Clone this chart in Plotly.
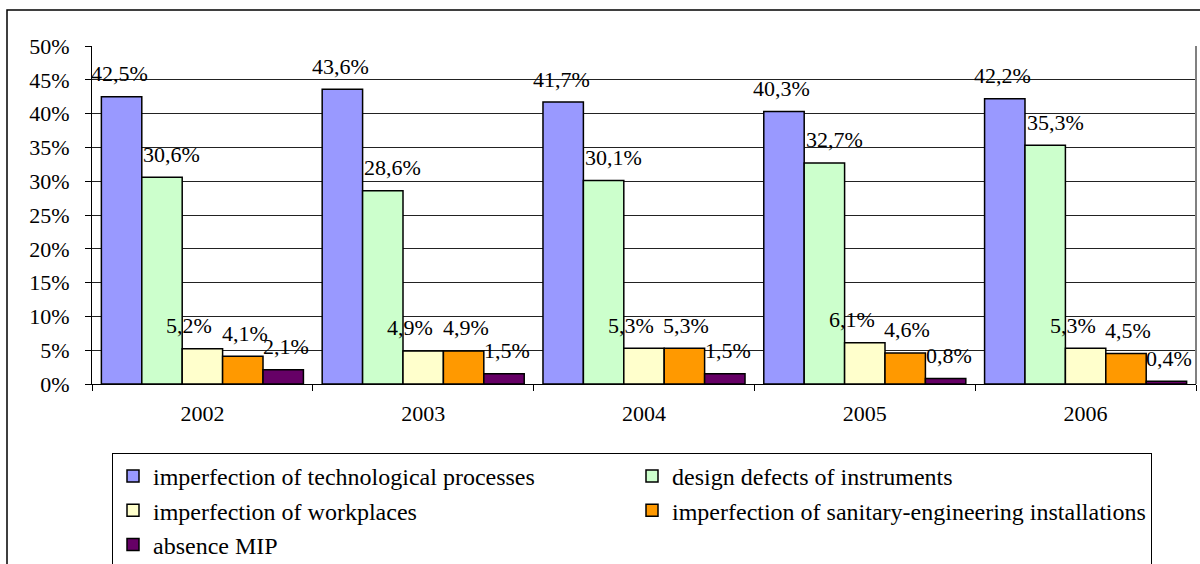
import plotly.graph_objects as go

years = ["2002", "2003", "2004", "2005", "2006"]
series_names = [
    "imperfection of technological processes",
    "design defects of instruments",
    "imperfection of workplaces",
    "imperfection of sanitary-engineering installations",
    "absence MIP",
]
tech_processes = [42.5, 43.6, 41.7, 40.3, 42.2]
design_defects = [30.6, 28.6, 30.1, 32.7, 35.3]
workplaces = [5.2, 4.9, 5.3, 6.1, 5.3]
sanitary = [4.1, 4.9, 5.3, 4.6, 4.5]
absence_mip = [2.1, 1.5, 1.5, 0.8, 0.4]
y_ticks = [0, 5, 10, 15, 20, 25, 30, 35, 40, 45, 50]

all_values = [tech_processes, design_defects, workplaces, sanitary, absence_mip]
colors = ["#9999FF", "#CCFFCC", "#FFFFCC", "#FF9900", "#660066"]
label_dx = [-2, 10, -13, 2, 3]

FONT = "Liberation Serif"
FS = 22
W = 0.183  # bar width in category units
xs = list(range(len(years)))

fig = go.Figure()
annotations = []
for j, (name, vals, col) in enumerate(zip(series_names, all_values, colors)):
    off = (j - 2) * W
    fig.add_trace(go.Bar(
        x=xs, y=vals, name=name,
        width=W, offset=off - W / 2,
        marker=dict(color=col, line=dict(color="black", width=1.5)),
        hoverinfo="skip",
    ))
    for i, v in enumerate(vals):
        annotations.append(dict(
            x=i + off, y=v, xref="x", yref="y",
            text=f"{v:.1f}%".replace(".", ","),
            showarrow=False, yshift=23, xshift=label_dx[j],
            font=dict(family=FONT, size=FS, color="black"),
        ))

fig.update_layout(
    width=1200, height=564,
    margin=dict(l=92, r=4, t=46, b=180, autoexpand=False),
    paper_bgcolor="white", plot_bgcolor="white",
    barmode="overlay",
    font=dict(family=FONT, size=FS, color="black"),
    annotations=annotations,
    showlegend=True,
    legend=dict(
        orientation="h",
        xref="container", yref="container",
        x=112 / 1200, xanchor="left",
        y=1 - 453 / 564, yanchor="top",
        entrywidth=474, entrywidthmode="pixels",
        bordercolor="black", borderwidth=1, bgcolor="white",
        font=dict(family=FONT, size=24, color="black"),
        traceorder="normal",
    ),
    xaxis=dict(
        range=[-0.5, 4.5],
        tickmode="array", tickvals=xs, ticktext=years,
        ticks="", showgrid=False, zeroline=False,
        showline=True, linecolor="black", linewidth=1,
        ticklabelstandoff=10,
        minor=dict(tickmode="array", tickvals=[-0.5, 0.5, 1.5, 2.5, 3.5, 4.5],
                   ticks="outside", ticklen=6, tickcolor="black", showgrid=False),
        fixedrange=True,
    ),
    yaxis=dict(
        range=[0, 50],
        tickmode="array", tickvals=y_ticks,
        ticktext=[f"{t}%" for t in y_ticks],
        ticks="outside", ticklen=6, tickcolor="black",
        showgrid=True, gridcolor="#222222", gridwidth=1,
        zeroline=False, showline=True, linecolor="black", linewidth=1,
        ticklabelstandoff=11,
        fixedrange=True,
    ),
    shapes=[
        dict(type="line", xref="paper", yref="paper", x0=1, x1=1, y0=0, y1=1,
             line=dict(color="#808080", width=2)),
        dict(type="rect", xref="paper", yref="paper",
             x0=(7 - 92) / 1104, x1=(1210 - 92) / 1104,
             y0=(384 - 580) / 338, y1=(384 - 10) / 338,
             line=dict(color="black", width=1.5), fillcolor="rgba(0,0,0,0)",
             layer="below"),
    ],
)

fig.write_html(
    "out.html",
    config={"displayModeBar": False},
    post_script="document.body.style.margin='0px';document.body.style.overflow='hidden';",
)
